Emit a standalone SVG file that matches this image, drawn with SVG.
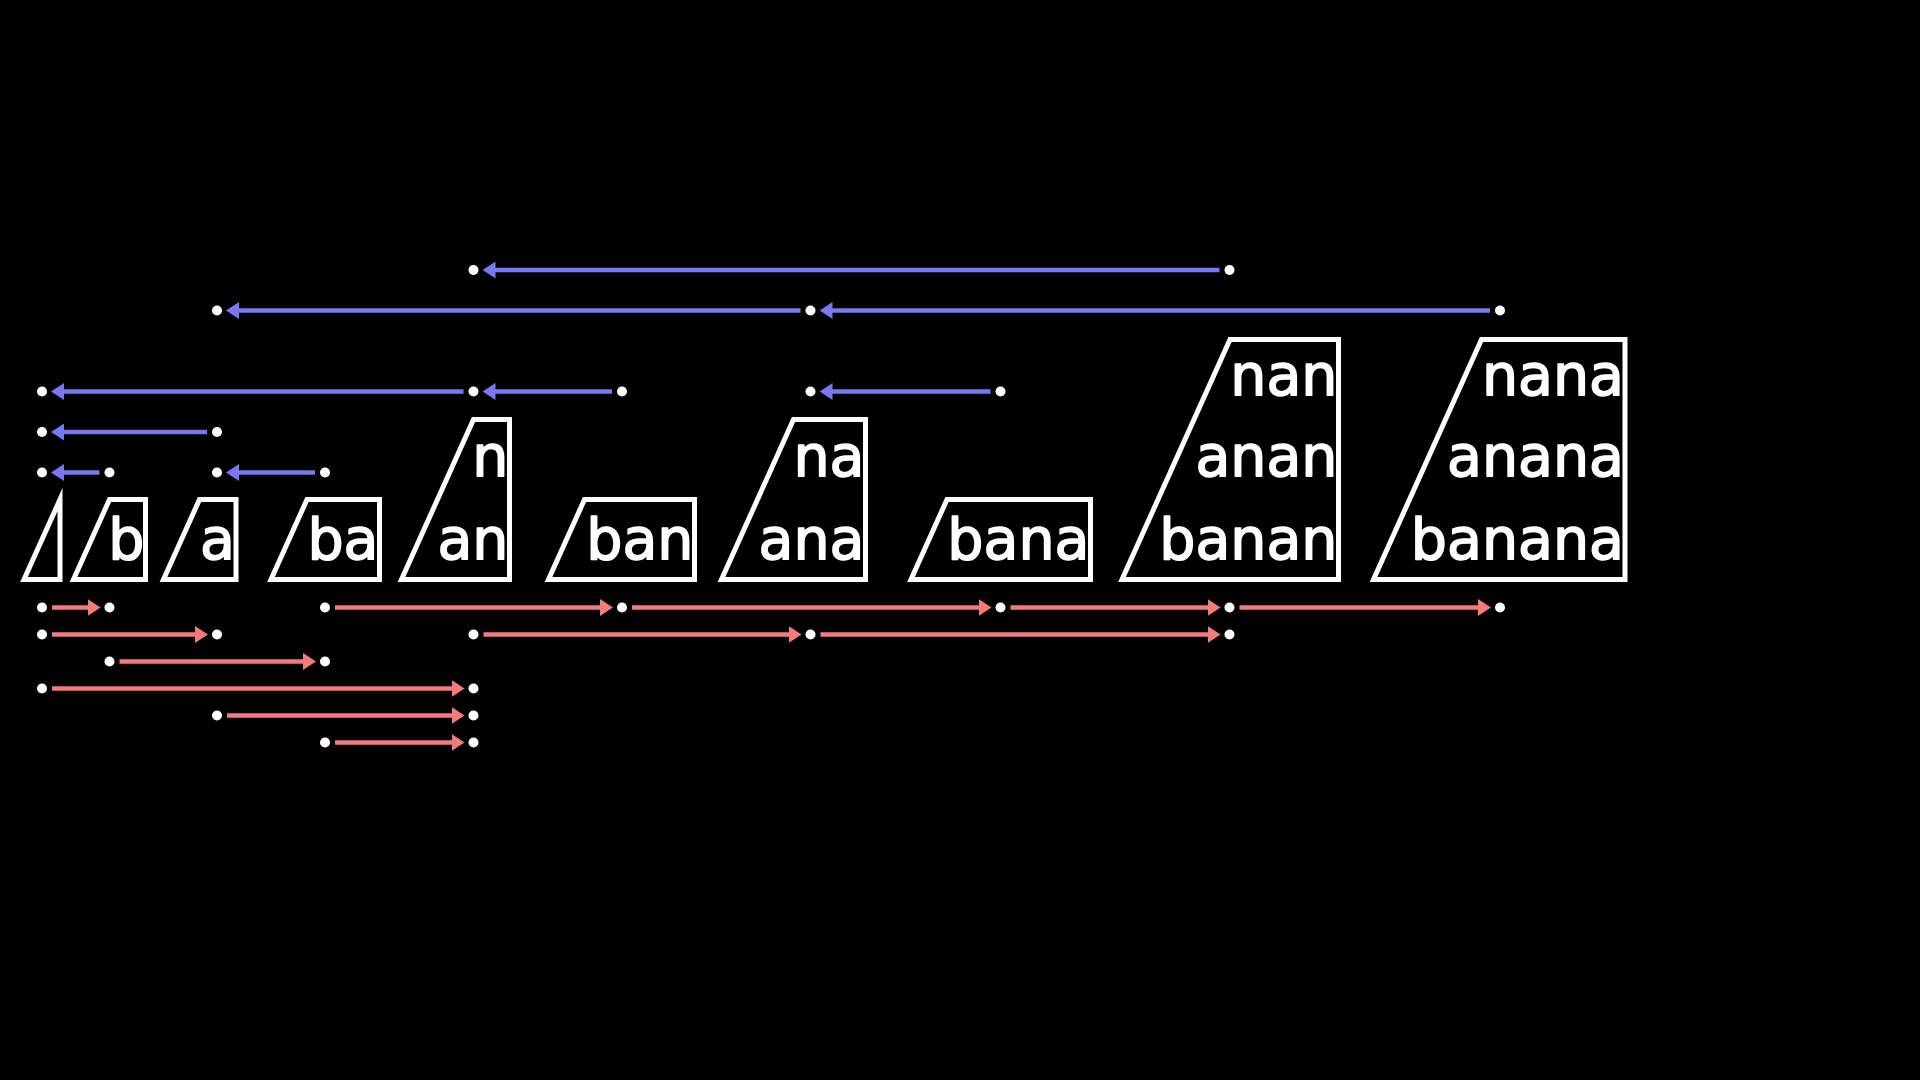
<svg xmlns="http://www.w3.org/2000/svg" width="1920" height="1080" viewBox="0 0 1920 1080">
<defs>
<style>
.box{fill:none;stroke:#fff;stroke-width:5;stroke-miterlimit:10;stroke-linejoin:miter}
.t{font-family:"DejaVu Sans","Liberation Sans",sans-serif;font-size:57px;fill:#fff;stroke:#fff;stroke-width:1.6;stroke-linejoin:round;text-anchor:end}
.dot{fill:#fff}
.blue{stroke:#7878F0;stroke-width:4.5;fill:none}
.red{stroke:#F47B7B;stroke-width:4.5;fill:none}
</style>
<marker id="hb" viewBox="0 -8.5 13 17" refX="2" refY="0" markerWidth="13" markerHeight="17" markerUnits="userSpaceOnUse" orient="auto"><path d="M0,-8.5 L13,0 L0,8.5 z" fill="#7878F0"/></marker>
<marker id="hr" viewBox="0 -8.5 13 17" refX="2" refY="0" markerWidth="13" markerHeight="17" markerUnits="userSpaceOnUse" orient="auto"><path d="M0,-8.5 L13,0 L0,8.5 z" fill="#F47B7B"/></marker>
</defs>
<rect x="0" y="0" width="1920" height="1080" fill="#000"/>

<g id="box-empty"><polygon class="box" points="24,579.5 60,499.5 60,579.5"/></g>
<g id="box-b"><polygon class="box" points="73.5,579.5 109.5,499.5 145.5,499.5 145.5,579.5"/><text class="t" x="144.5" y="559">b</text></g>
<g id="box-a"><polygon class="box" points="163.5,579.5 199.5,499.5 236,499.5 236,579.5"/><text class="t" x="235" y="559">a</text></g>
<g id="box-ba"><polygon class="box" points="271,579.5 307,499.5 379.5,499.5 379.5,579.5"/><text class="t" x="378.5" y="559">ba</text></g>
<g id="box-an"><polygon class="box" points="401.5,579.5 473.5,419.5 509.5,419.5 509.5,579.5"/><text class="t" x="508.5" y="476">n</text><text class="t" x="508.5" y="559">an</text></g>
<g id="box-ban"><polygon class="box" points="548.5,579.5 584.5,499.5 694.5,499.5 694.5,579.5"/><text class="t" x="693.5" y="559">ban</text></g>
<g id="box-ana"><polygon class="box" points="721.5,579.5 793.5,419.5 865.5,419.5 865.5,579.5"/><text class="t" x="864.5" y="476">na</text><text class="t" x="864.5" y="559">ana</text></g>
<g id="box-bana"><polygon class="box" points="911,579.5 947,499.5 1090.5,499.5 1090.5,579.5"/><text class="t" x="1089.5" y="559">bana</text></g>
<g id="box-banan"><polygon class="box" points="1122,579.5 1230,339.5 1338.5,339.5 1338.5,579.5"/><text class="t" x="1337.5" y="395">nan</text><text class="t" x="1337.5" y="476">anan</text><text class="t" x="1337.5" y="559">banan</text></g>
<g id="box-banana"><polygon class="box" points="1373.5,579.5 1481.5,339.5 1625,339.5 1625,579.5"/><text class="t" x="1624" y="395">nana</text><text class="t" x="1624" y="476">anana</text><text class="t" x="1624" y="559">banana</text></g>

<g id="connectors">
<line class="blue" marker-end="url(#hb)" x1="1219.5" y1="270" x2="493.5" y2="270"/>
<line class="blue" marker-end="url(#hb)" x1="800.5" y1="310.5" x2="237" y2="310.5"/>
<line class="blue" marker-end="url(#hb)" x1="1490" y1="310.5" x2="830.5" y2="310.5"/>
<line class="blue" marker-end="url(#hb)" x1="463.5" y1="391.5" x2="62" y2="391.5"/>
<line class="blue" marker-end="url(#hb)" x1="612" y1="391.5" x2="493.5" y2="391.5"/>
<line class="blue" marker-end="url(#hb)" x1="990.5" y1="391.5" x2="830.5" y2="391.5"/>
<line class="blue" marker-end="url(#hb)" x1="207" y1="432" x2="62" y2="432"/>
<line class="blue" marker-end="url(#hb)" x1="99.5" y1="472.5" x2="62" y2="472.5"/>
<line class="blue" marker-end="url(#hb)" x1="315" y1="472.5" x2="237" y2="472.5"/>

<line class="red" marker-end="url(#hr)" x1="52" y1="607.5" x2="89.5" y2="607.5"/>
<line class="red" marker-end="url(#hr)" x1="335" y1="607.5" x2="602" y2="607.5"/>
<line class="red" marker-end="url(#hr)" x1="632" y1="607.5" x2="980.5" y2="607.5"/>
<line class="red" marker-end="url(#hr)" x1="1010.5" y1="607.5" x2="1209.5" y2="607.5"/>
<line class="red" marker-end="url(#hr)" x1="1239.5" y1="607.5" x2="1480" y2="607.5"/>
<line class="red" marker-end="url(#hr)" x1="52" y1="634.5" x2="197" y2="634.5"/>
<line class="red" marker-end="url(#hr)" x1="483.5" y1="634.5" x2="790.5" y2="634.5"/>
<line class="red" marker-end="url(#hr)" x1="820.5" y1="634.5" x2="1209.5" y2="634.5"/>
<line class="red" marker-end="url(#hr)" x1="119.5" y1="661.5" x2="305" y2="661.5"/>
<line class="red" marker-end="url(#hr)" x1="52" y1="688.5" x2="453.5" y2="688.5"/>
<line class="red" marker-end="url(#hr)" x1="227" y1="715.5" x2="453.5" y2="715.5"/>
<line class="red" marker-end="url(#hr)" x1="335" y1="742.5" x2="453.5" y2="742.5"/>
</g>

<g id="dots">
<circle class="dot" cx="473.5" cy="270" r="5"/><circle class="dot" cx="1229.5" cy="270" r="5"/>
<circle class="dot" cx="217" cy="310.5" r="5"/><circle class="dot" cx="810.5" cy="310.5" r="5"/><circle class="dot" cx="1500" cy="310.5" r="5"/>
<circle class="dot" cx="42" cy="391.5" r="5"/><circle class="dot" cx="473.5" cy="391.5" r="5"/><circle class="dot" cx="622" cy="391.5" r="5"/><circle class="dot" cx="810.5" cy="391.5" r="5"/><circle class="dot" cx="1000.5" cy="391.5" r="5"/>
<circle class="dot" cx="42" cy="432" r="5"/><circle class="dot" cx="217" cy="432" r="5"/>
<circle class="dot" cx="42" cy="472.5" r="5"/><circle class="dot" cx="109.5" cy="472.5" r="5"/><circle class="dot" cx="217" cy="472.5" r="5"/><circle class="dot" cx="325" cy="472.5" r="5"/>
<circle class="dot" cx="42" cy="607.5" r="5"/><circle class="dot" cx="109.5" cy="607.5" r="5"/><circle class="dot" cx="325" cy="607.5" r="5"/><circle class="dot" cx="622" cy="607.5" r="5"/><circle class="dot" cx="1000.5" cy="607.5" r="5"/><circle class="dot" cx="1229.5" cy="607.5" r="5"/><circle class="dot" cx="1500" cy="607.5" r="5"/>
<circle class="dot" cx="42" cy="634.5" r="5"/><circle class="dot" cx="217" cy="634.5" r="5"/><circle class="dot" cx="473.5" cy="634.5" r="5"/><circle class="dot" cx="810.5" cy="634.5" r="5"/><circle class="dot" cx="1229.5" cy="634.5" r="5"/>
<circle class="dot" cx="109.5" cy="661.5" r="5"/><circle class="dot" cx="325" cy="661.5" r="5"/>
<circle class="dot" cx="42" cy="688.5" r="5"/><circle class="dot" cx="473.5" cy="688.5" r="5"/>
<circle class="dot" cx="217" cy="715.5" r="5"/><circle class="dot" cx="473.5" cy="715.5" r="5"/>
<circle class="dot" cx="325" cy="742.5" r="5"/><circle class="dot" cx="473.5" cy="742.5" r="5"/>
</g>
</svg>
